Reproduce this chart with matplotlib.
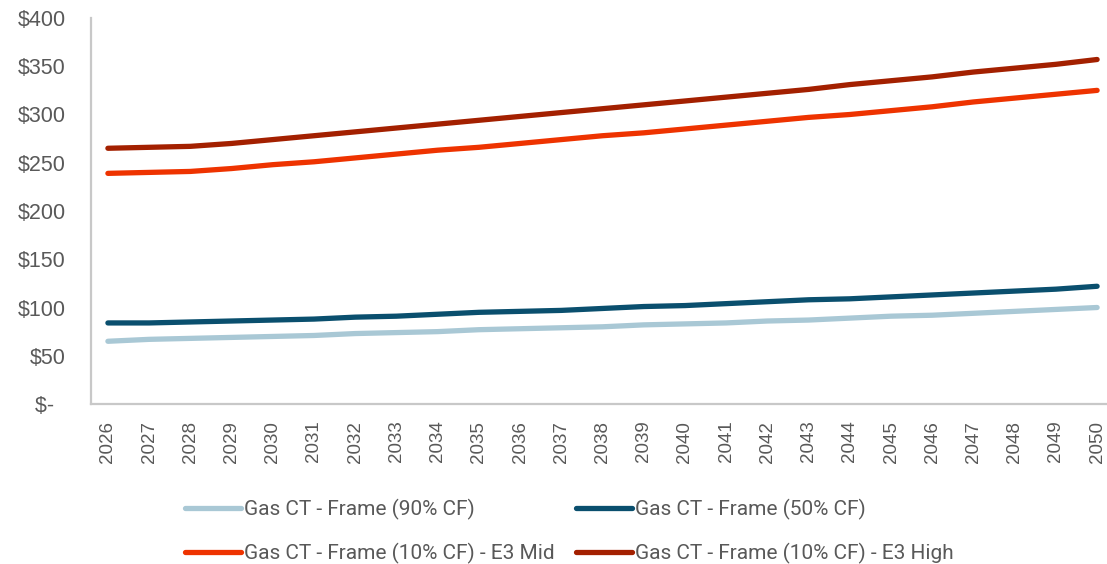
import matplotlib
matplotlib.use("Agg")
import matplotlib.pyplot as plt
from matplotlib.ticker import FuncFormatter

years = list(range(2026, 2051))

cf90 = [65, 67, 68, 69, 70, 71, 73, 74, 75, 77, 78, 79, 80, 82, 83, 84, 86, 87, 89, 91, 92, 94, 96, 98, 100]
cf50 = [84, 84, 85, 86, 87, 88, 90, 91, 93, 95, 96, 97, 99, 101, 102, 104, 106, 108, 109, 111, 113, 115, 117, 119, 122]
e3_mid = [239, 240, 241, 244, 248, 251, 255, 259, 263, 266, 270, 274, 278, 281, 285, 289, 293, 297, 300, 304, 308, 313, 317, 321, 325]
e3_high = [265, 266, 267, 270, 274, 278, 282, 286, 290, 294, 298, 302, 306, 310, 314, 318, 322, 326, 331, 335, 339, 344, 348, 352, 357]

series_labels = [
    "Gas CT - Frame (90% CF)",
    "Gas CT - Frame (50% CF)",
    "Gas CT - Frame (10% CF) - E3 Mid",
    "Gas CT - Frame (10% CF) - E3 High",
]
series_colors = ["#A9C8D5", "#0A4F6E", "#EE3300", "#A32000"]

y_ticks = [0, 50, 100, 150, 200, 250, 300, 350, 400]

plt.rcParams["font.family"] = ["Liberation Sans", "DejaVu Sans"]

fig = plt.figure(figsize=(11.07, 5.64), dpi=100)
ax = fig.add_axes([91 / 1107, (564 - 404) / 564, (1107 - 91) / 1107, (404 - 18) / 564])

x = list(range(len(years)))
handles = []
for vals, lab, col in zip([cf90, cf50, e3_mid, e3_high], series_labels, series_colors):
    h, = ax.plot(x, vals, color=col, lw=3.8, solid_capstyle="round", solid_joinstyle="round", label=lab)
    handles.append(h)

ax.set_xlim(-0.41, 24.24)
ax.set_ylim(0, 400)
ax.set_xticks(x)
ax.set_xticklabels([str(y) for y in years], rotation=90, fontsize=13.5, color="#595959")
ax.set_yticks(y_ticks)
ax.yaxis.set_major_formatter(FuncFormatter(lambda v, p: "$-  " if v == 0 else f"${v:,.0f}"))
ax.tick_params(axis="y", length=0, pad=18, labelsize=15.5, labelcolor="#595959")
ax.tick_params(axis="x", length=0, pad=12)

for s in ["top", "right"]:
    ax.spines[s].set_visible(False)
for s in ["left", "bottom"]:
    ax.spines[s].set_color("#C8C8C8")
    ax.spines[s].set_linewidth(1.6)

leg = fig.legend(
    [handles[0], handles[2], handles[1], handles[3]],
    [series_labels[0], series_labels[2], series_labels[1], series_labels[3]],
    ncol=2, loc="upper left", bbox_to_anchor=(166 / 1107, 1 - 480 / 564),
    frameon=False, handlelength=2.7, handletextpad=0.12, columnspacing=1.05,
    labelspacing=1.1, prop={"family": ["Roboto", "DejaVu Sans"], "size": 15},
    labelcolor="#595959",
)

fig.savefig("out.png", dpi=100)
